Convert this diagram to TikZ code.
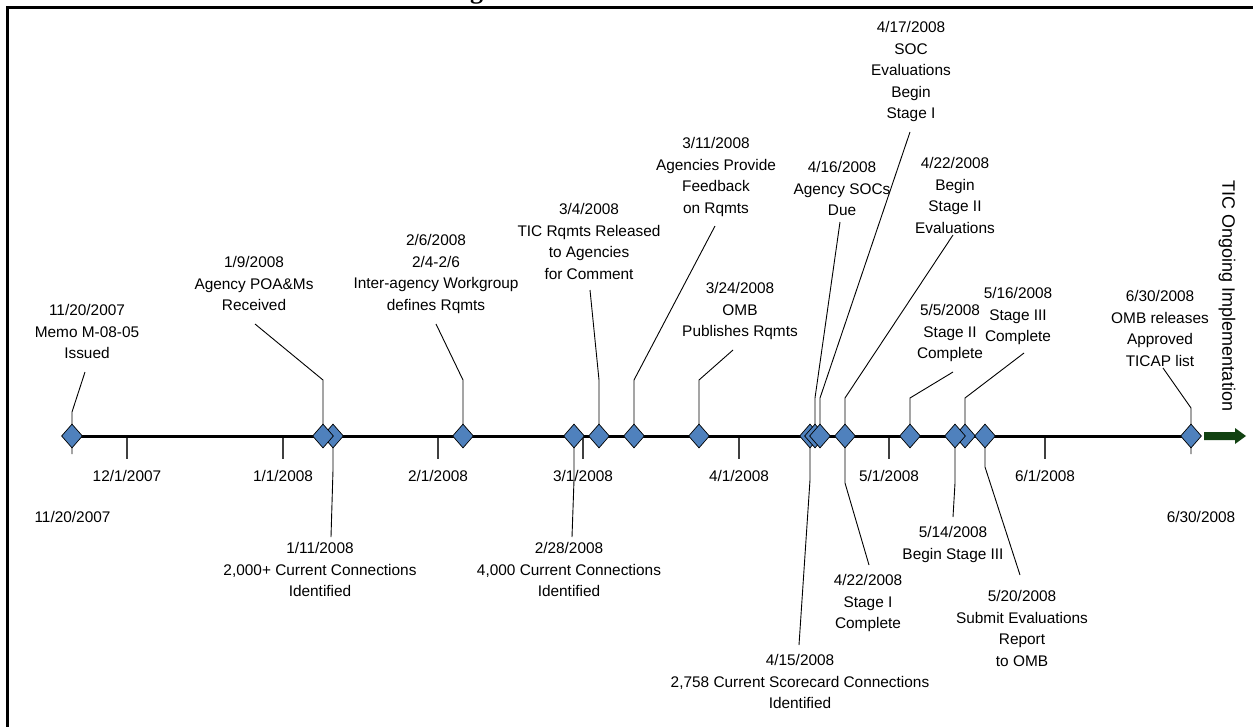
\documentclass[tikz,border=0pt]{standalone}
\usepackage{fontspec}
\setmainfont{Liberation Sans}
\newfontfamily\titlefont{Liberation Serif}
\usetikzlibrary{shapes.geometric,backgrounds}
\definecolor{mkblue}{RGB}{79,129,189}
\definecolor{arrgreen}{RGB}{18,66,18}
\newcommand{\mystrut}{\rule{0pt}{12pt}}
\begin{document}
\begin{tikzpicture}[x=1pt,y=-1pt,
  mk/.style={diamond, draw=black, line width=0.7pt, fill=mkblue, minimum width=21pt, minimum height=24pt, inner sep=0pt, aspect=0.875},
  lbl/.style={align=center, inner sep=0pt, anchor=north, font=\fontsize{15.4}{21.5}\selectfont},
  tlbl/.style={inner sep=0pt, anchor=center, font=\fontsize{15.4}{21.5}\selectfont},
  leader/.style={line width=0.9pt, black},
  tickmark/.style={line width=1.2pt, black!75},
  axisline/.style={line width=3pt, black}]
\useasboundingbox (0,0) rectangle (1253,726);
% frame and title
\draw[line width=3pt] (7.5,740) -- (7.5,7) -- (1270,7);
\node[font=\titlefont\bfseries\fontsize{26}{30}\selectfont, anchor=base, inner sep=0pt] (title) at (631,-2) {Figure 1: TIC Initiative Timeline};
% marker positions
\coordinate (pA) at (72,436);
\coordinate (pB) at (323,436);
\coordinate (pC) at (333,436);
\coordinate (pD) at (463,436);
\coordinate (pE) at (574,436);
\coordinate (pF) at (599,436);
\coordinate (pG) at (634,436);
\coordinate (pH) at (699,436);
\coordinate (pI) at (810,436);
\coordinate (pJ) at (815,436);
\coordinate (pK) at (820,436);
\coordinate (pL) at (845,436);
\coordinate (pM) at (910,436);
\coordinate (pN) at (955,436);
\coordinate (pO) at (965,436);
\coordinate (pP) at (985,436);
\coordinate (pQ) at (1191,436);
% ticks
\foreach \tx/\tn/\tt in {127/t1/12\slash 1\slash 2007,283/t2/1\slash 1\slash 2008,438/t3/2\slash 1\slash 2008,583/t4/3\slash 1\slash 2008,739/t5/4\slash 1\slash 2008,889/t6/5\slash 1\slash 2008,1045/t7/6\slash 1\slash 2008}{
  \coordinate (\tn) at (\tx,436);
  \draw[tickmark] (\tn) -- ++(0,23);
  \node[tlbl] (\tn lbl) at (\tx,476) {\tt};
}
\node[tlbl] (startlbl) at (72.5,517) {11/20/2007};
\node[tlbl] (endlbl) at (1201,517) {6/30/2008};
% labels above
\node[lbl] (lA) at (87,303.5) {\mystrut 11/20/2007\\Memo M-08-05\\Issued};
\node[lbl] (lB) at (254,255.5) {\mystrut 1/9/2008\\Agency POA\&Ms\\Received};
\node[lbl] (lD) at (436,233.5) {\mystrut 2/6/2008\\2/4-2/6\\Inter-agency Workgroup\\defines Rqmts};
\node[lbl] (lF) at (589,202.5) {\mystrut 3/4/2008\\TIC Rqmts Released\\to Agencies\\for Comment};
\node[lbl] (lG) at (716,136.5) {\mystrut 3/11/2008\\Agencies Provide\\Feedback\\on Rqmts};
\node[lbl] (lH) at (740,281.5) {\mystrut 3/24/2008\\OMB\\Publishes Rqmts};
\node[lbl] (lJ) at (842,160.5) {\mystrut 4/16/2008\\Agency SOCs\\Due};
\node[lbl] (lK) at (911,20.5) {\mystrut 4/17/2008\\SOC\\Evaluations\\Begin\\Stage I};
\node[lbl] (lL) at (955,156.5) {\mystrut 4/22/2008\\Begin\\Stage II\\Evaluations};
\node[lbl] (lM) at (950,303.5) {\mystrut 5/5/2008\\Stage II\\Complete};
\node[lbl] (lO) at (1018,286.5) {\mystrut 5/16/2008\\Stage III\\Complete};
\node[lbl] (lQ) at (1160,289.5) {\mystrut 6/30/2008\\OMB releases\\Approved\\TICAP list};
% labels below
\node[lbl] (lC) at (320,541.5) {\mystrut 1/11/2008\\2,000+ Current Connections\\Identified};
\node[lbl] (lE) at (569,541.5) {\mystrut 2/28/2008\\4,000 Current Connections\\Identified};
\node[lbl] (lI) at (800,653.5) {\mystrut 4/15/2008\\2,758 Current Scorecard Connections\\Identified};
\node[lbl] (lL2) at (868,573.5) {\mystrut 4/22/2008\\Stage I\\Complete};
\node[lbl] (lN) at (953,525.5) {\mystrut 5/14/2008\\Begin Stage III};
\node[lbl] (lP) at (1022,589.5) {\mystrut 5/20/2008\\Submit Evaluations\\Report\\to OMB};
% vertical text and arrow
\node[font=\fontsize{18}{20}\selectfont, rotate=-90, anchor=mid, inner sep=0pt] (ongoing) at (1225,296) {TIC Ongoing Implementation};
\fill[arrgreen] (1204,432) -- (1235,432) -- (1235,428) -- (1246,436) -- (1235,444) -- (1235,440) -- (1204,440) -- cycle;
% leader end points
\coordinate (eA) at (85,372);   \coordinate (kA) at (72,412);
\coordinate (eB) at (255,324);  \coordinate (kB) at (323,380);
\coordinate (eD) at (436,324);  \coordinate (kD) at (463,380);
\coordinate (eF) at (590,290);  \coordinate (kF) at (599,380);
\coordinate (eG) at (715,226);  \coordinate (kG) at (634,380);
\coordinate (eH) at (733,350);  \coordinate (kH) at (699,380);
\coordinate (eJ) at (840,222);  \coordinate (kJ) at (815,398);
\coordinate (eK) at (910,132);  \coordinate (kK) at (820,398);
\coordinate (eL) at (953,235);  \coordinate (kL) at (845,398);
\coordinate (eM) at (953,372);  \coordinate (kM) at (910,398);
\coordinate (eO) at (1024,353); \coordinate (kO) at (965,398);
\coordinate (eQ) at (1163,368); \coordinate (kQ) at (1191,408);
\coordinate (eC) at (331,537);  \coordinate (kC) at (333,470);
\coordinate (eE) at (572,537);  \coordinate (kE) at (574,480);
\coordinate (eI) at (799,645);  \coordinate (kI) at (810,480);
\coordinate (eL2) at (869,565); \coordinate (kL2) at (845,483);
\coordinate (eN) at (953,517);  \coordinate (kN) at (955,483);
\coordinate (eP) at (1020,575); \coordinate (kP) at (985,467);
% axis and leaders
\draw[axisline] (pA) -- (pQ);
\draw[leader] (pA) ++(0,18) -- (kA) -- (eA);
\draw[leader] (pQ) ++(0,18) -- (kQ) -- (eQ);
\foreach \p in {B,D,F,G,H,J,K,L,M,O,C,E,I,N,P}{
  \draw[leader] (p\p) -- (k\p) -- (e\p);
}
\draw[leader] (pL) -- (kL2) -- (eL2);
% markers
\node[mk] (dA) at (pA) {};
\node[mk] (dC) at (pC) {};
\node[mk] (dB) at (pB) {};
\node[mk] (dD) at (pD) {};
\node[mk] (dE) at (pE) {};
\node[mk] (dF) at (pF) {};
\node[mk] (dG) at (pG) {};
\node[mk] (dH) at (pH) {};
\node[mk] (dI) at (pI) {};
\node[mk] (dJ) at (pJ) {};
\node[mk] (dK) at (pK) {};
\node[mk] (dL) at (pL) {};
\node[mk] (dM) at (pM) {};
\node[mk] (dO) at (pO) {};
\node[mk] (dN) at (pN) {};
\node[mk] (dP) at (pP) {};
\node[mk] (dQ) at (pQ) {};
\end{tikzpicture}
\end{document}
